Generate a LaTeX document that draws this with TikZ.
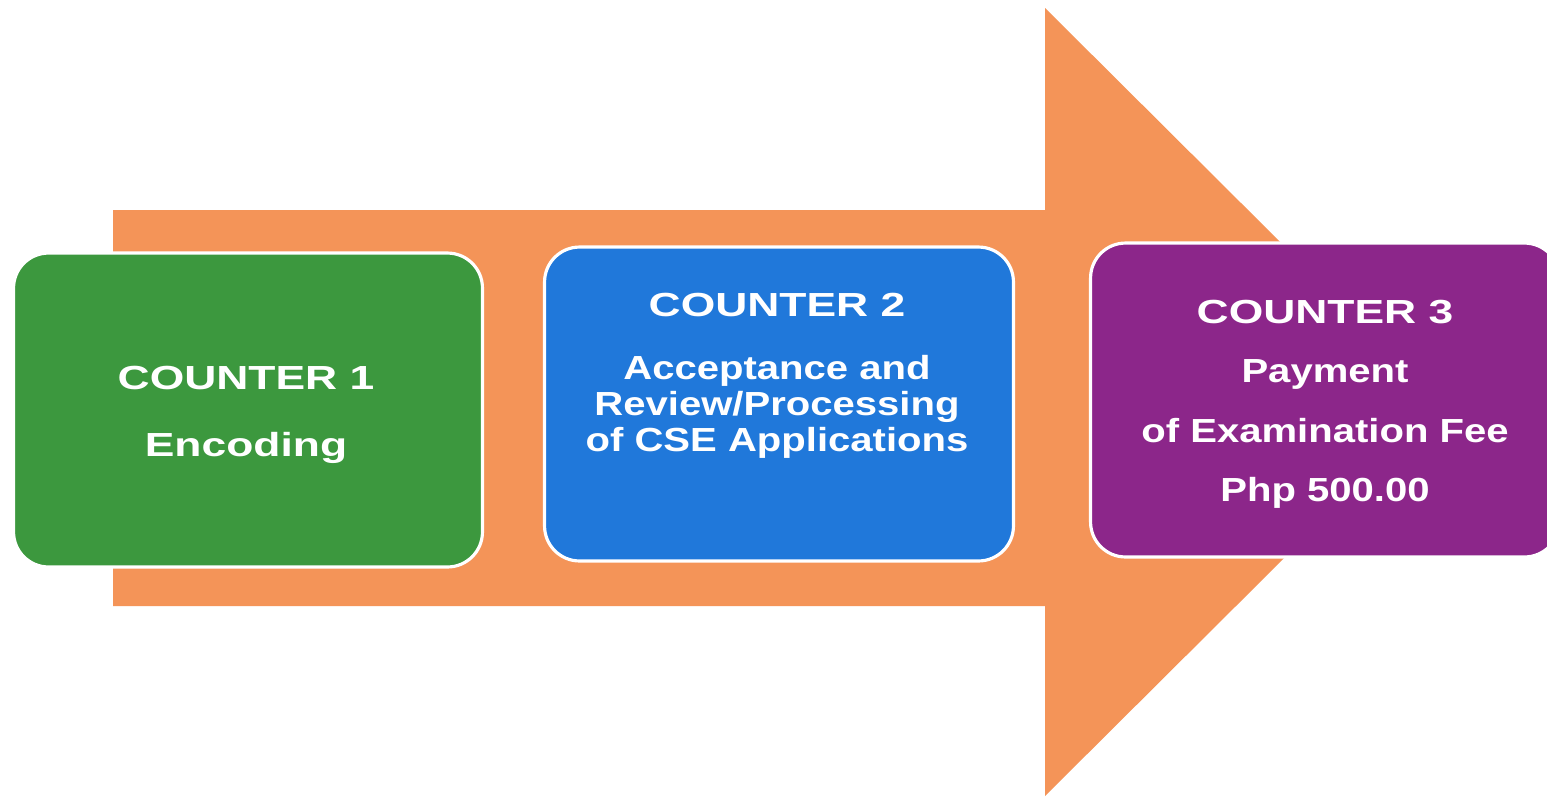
\documentclass[tikz,border=0pt]{standalone}
\usepackage{fontspec}
\newfontfamily\titlefont{Liberation Sans}[FakeStretch=1.33]
\newfontfamily\linefont{Liberation Sans}[FakeStretch=1.2]
\definecolor{arroworange}{RGB}{244,148,88}
\definecolor{cgreen}{RGB}{60,152,62}
\definecolor{cblue}{RGB}{32,120,218}
\definecolor{cpurple}{RGB}{140,38,138}
\tikzset{counterbox/.style={rounded corners=0.7cm,draw=white,line width=1.8pt,minimum width=9.38cm,minimum height=6.28cm},
 countertext/.style={anchor=north,inner sep=0pt,align=center,text=white,font=\linefont\bfseries\fontsize{19}{20.5}\selectfont}}
\begin{document}
\begin{tikzpicture}[x=0.02cm,y=-0.02cm]
 \useasboundingbox (0,0) rectangle (1547,799); \clip (0,0) rectangle (1547,799); \fill[white] (0,0) rectangle (1547,799);
 \fill[arroworange] (113,210) -- (1045,210) -- (1045,8) -- (1441,402) -- (1045,796) -- (1045,606) -- (113,606) -- cycle;
 \node[counterbox,fill=cgreen] (c1) at (248,410) {};
 \node[counterbox,fill=cblue] (c2) at (779,404) {};
 \node[counterbox,fill=cpurple] (c3) at (1325,400) {};
 \node[countertext] (t1) at (246,366) {{\titlefont COUNTER 1}\\[17.6pt]{\titlefont Encoding}};
 \node[countertext] (t2) at (777,293) {{\titlefont COUNTER 2}\\[15.4pt]Acceptance and\\Review/Processing\\of CSE Applications};
 \node[countertext] (t3) at (1325,300) {{\titlefont COUNTER 3}\\[13.2pt]Payment\\[13.2pt]of Examination Fee\\[13.2pt]Php 500.00};
\end{tikzpicture}
\end{document}
